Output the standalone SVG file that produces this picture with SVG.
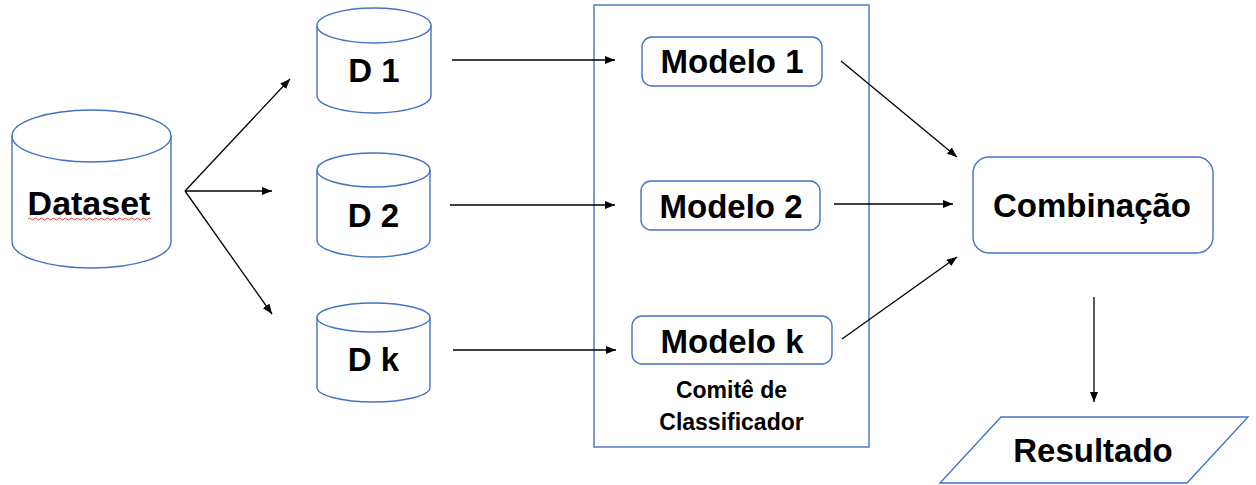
<svg xmlns="http://www.w3.org/2000/svg" width="1256" height="485" viewBox="0 0 1256 485">
<style>
.shape{fill:#ffffff;stroke:#4472C4;stroke-width:1.4}
.frame{fill:none;stroke:#4472C4;stroke-width:1.4}
.big{font-family:"Liberation Sans",Arial,sans-serif;font-weight:bold;font-size:33px;fill:#000;text-anchor:middle}
.small{font-family:"Liberation Sans",Arial,sans-serif;font-weight:bold;font-size:23px;fill:#000;text-anchor:middle}
.conn{fill:none;stroke:#000;stroke-width:1.3;marker-end:url(#arr)}
</style>
<defs>
<marker id="arr" markerUnits="userSpaceOnUse" markerWidth="10" markerHeight="8" refX="10" refY="4" orient="auto">
<path d="M0,0 L10,4 L0,8 Z" fill="#000"/>
</marker>
</defs>
<rect width="1256" height="485" fill="#ffffff"/>

<g id="comite">
<rect class="frame" x="594" y="5" width="275" height="442"/>
<text class="small" x="731.5" y="398">Comitê de</text>
<text class="small" x="731.5" y="430">Classificador</text>
</g>

<g id="dataset">
<path class="shape" d="M12,136 A79.5,26 0 0 1 171,136 L171,242 A79.5,26 0 0 1 12,242 Z"/>
<path class="frame" d="M12,136 A79.5,26 0 0 0 171,136"/>
<text class="big" x="89" y="215" style="font-size:34px">Dataset</text>
<path d="M28,219 q1.5,-2 3,0 t3,0 t3,0 t3,0 t3,0 t3,0 t3,0 t3,0 t3,0 t3,0 t3,0 t3,0 t3,0 t3,0 t3,0 t3,0 t3,0 t3,0 t3,0 t3,0 t3,0 t3,0 t3,0 t3,0 t3,0 t3,0 t3,0 t3,0 t3,0 t3,0 t3,0 t3,0 t3,0 t3,0 t3,0 t3,0 t3,0 t3,0 t3,0 t3,0 t3,0" fill="none" stroke="#e03030" stroke-width="0.9"/>
</g>

<g id="d1">
<path class="shape" d="M317,25.5 A57,17.5 0 0 1 431,25.5 L431,95.5 A57,17.5 0 0 1 317,95.5 Z"/>
<path class="frame" d="M317,25.5 A57,17.5 0 0 0 431,25.5"/>
<text class="big" x="374" y="82">D 1</text>
</g>

<g id="d2">
<path class="shape" d="M317,170 A56.5,17 0 0 1 430,170 L430,240 A56.5,17 0 0 1 317,240 Z"/>
<path class="frame" d="M317,170 A56.5,17 0 0 0 430,170"/>
<text class="big" x="373.5" y="227">D 2</text>
</g>

<g id="dk">
<path class="shape" d="M317,317.5 A56.5,14.5 0 0 1 430,317.5 L430,387.5 A56.5,14.5 0 0 1 317,387.5 Z"/>
<path class="frame" d="M317,317.5 A56.5,14.5 0 0 0 430,317.5"/>
<text class="big" x="373.5" y="371">D k</text>
</g>

<g id="modelo1">
<rect class="shape" x="642" y="37" width="180" height="49" rx="10"/>
<text class="big" x="732" y="73">Modelo 1</text>
</g>

<g id="modelo2">
<rect class="shape" x="641" y="181" width="179" height="49" rx="10"/>
<text class="big" x="731" y="218">Modelo 2</text>
</g>

<g id="modelok">
<rect class="shape" x="632" y="316" width="200" height="48" rx="10"/>
<text class="big" x="732" y="353">Modelo k</text>
</g>

<g id="combinacao">
<rect class="shape" x="973" y="157" width="240" height="96" rx="16"/>
<text class="big" x="1092" y="217">Combinação</text>
</g>

<g id="resultado">
<polygon class="shape" points="1001,417 1248,417 1187,483 940,483"/>
<text class="big" x="1093" y="462">Resultado</text>
</g>

<g id="connectors">
<line class="conn" x1="185" y1="191" x2="290" y2="79"/>
<line class="conn" x1="185" y1="191" x2="272" y2="191"/>
<line class="conn" x1="185" y1="191" x2="272" y2="314"/>
<line class="conn" x1="452" y1="60" x2="615" y2="60"/>
<line class="conn" x1="450" y1="205" x2="615" y2="205"/>
<line class="conn" x1="453" y1="350" x2="616" y2="350"/>
<line class="conn" x1="841" y1="61" x2="957" y2="157"/>
<line class="conn" x1="834" y1="204" x2="953" y2="204"/>
<line class="conn" x1="842" y1="339" x2="957" y2="257"/>
<line class="conn" x1="1094" y1="297" x2="1094" y2="402"/>
</g>
</svg>
